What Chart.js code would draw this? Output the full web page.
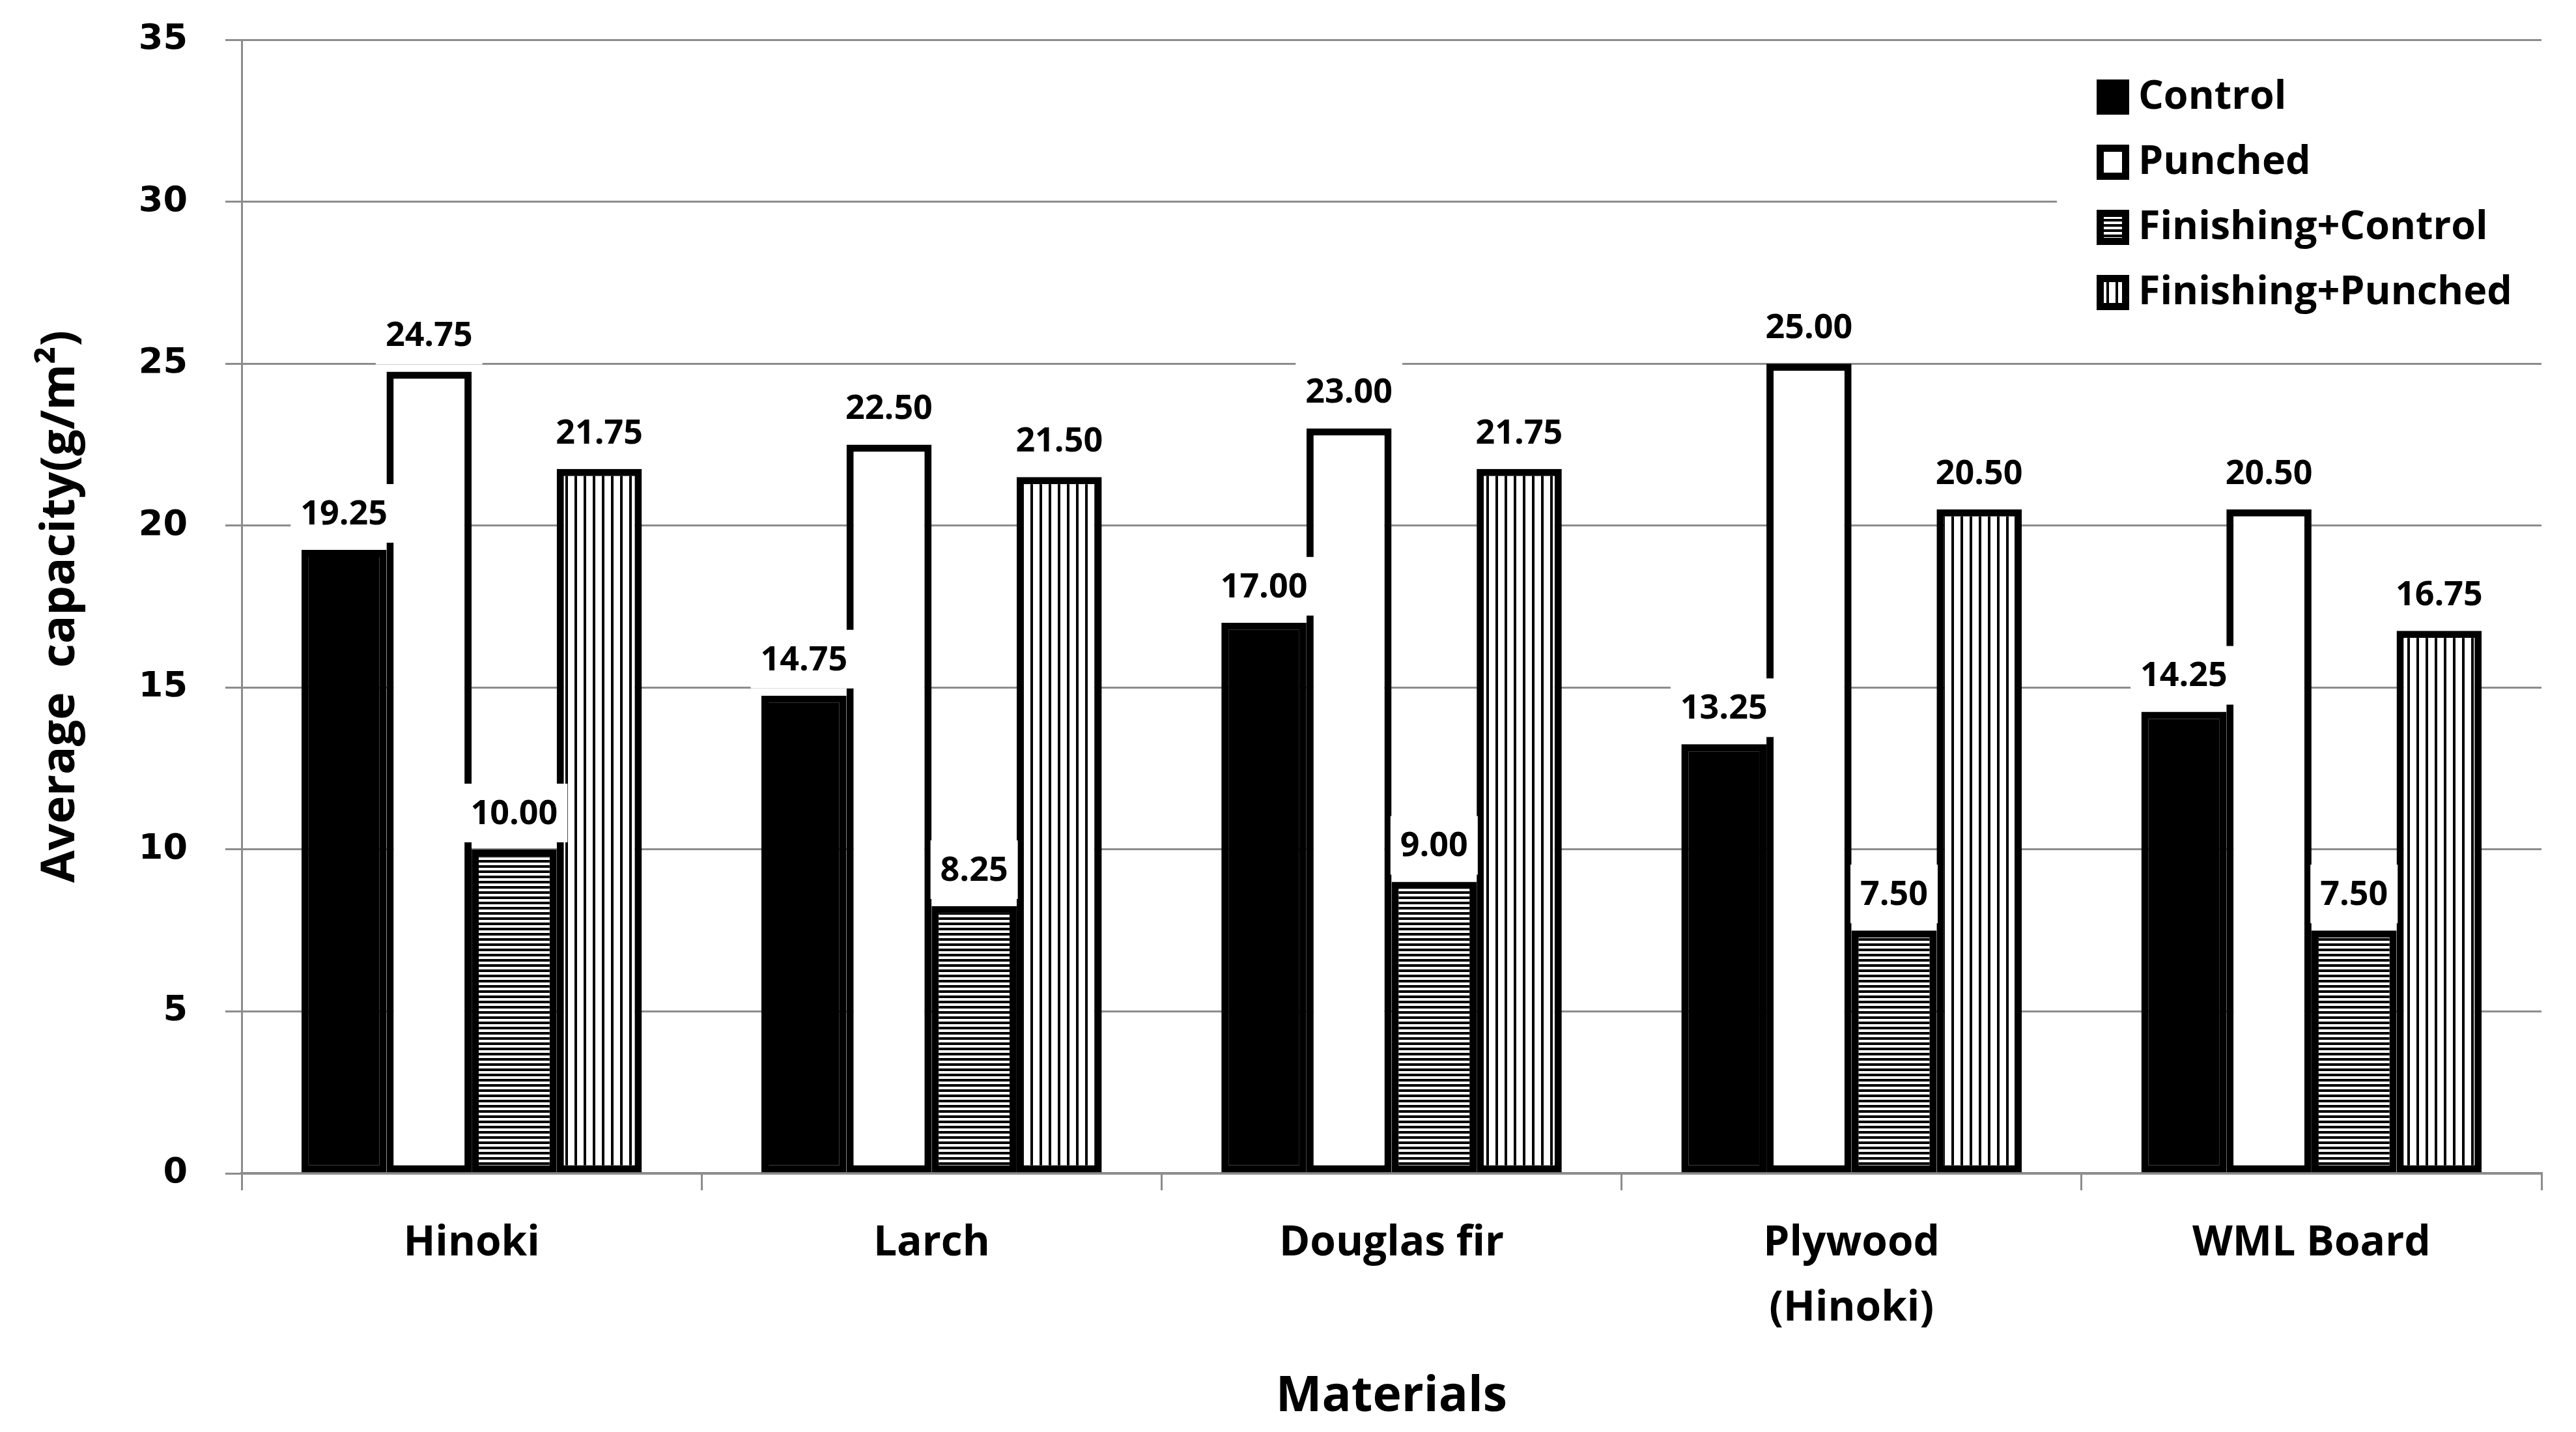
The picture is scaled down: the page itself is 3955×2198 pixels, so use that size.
<!DOCTYPE html>
<html>
<head>
<meta charset="utf-8">
<script src="https://cdn.jsdelivr.net/npm/chart.js@4.4.1/dist/chart.umd.min.js"></script>
<style>
  body { margin: 0; background: #fff; }
  #wrap { width: 3955px; height: 2198px; }
</style>
</head>
<body>
<div id="wrap"><canvas id="capacityChart" width="3955" height="2198"></canvas></div>
<script>
// chart data
const categories = ['Hinoki', 'Larch', 'Douglas fir', ['Plywood', '(Hinoki)'], 'WML Board'];
const seriesNames = ['Control', 'Punched', 'Finishing+Control', 'Finishing+Punched'];
const controlValues = [19.25, 14.75, 17.00, 13.25, 14.25];
const punchedValues = [24.75, 22.50, 23.00, 25.00, 20.50];
const finishControlValues = [10.00, 8.25, 9.00, 7.50, 7.50];
const finishPunchedValues = [21.75, 21.50, 21.75, 20.50, 16.75];
const yMin = 0, yMax = 35, yStep = 5;

const GRID = '#8c8c8c';
const LABEL_FONT = '"Open Sans", "DejaVu Sans", sans-serif';

// stripe patterns (horizontal for Finishing+Control, vertical for Finishing+Punched)
function makePattern(w, h, draw) {
  const c = document.createElement('canvas');
  c.width = w; c.height = h;
  const g = c.getContext('2d');
  g.fillStyle = '#fff';
  g.fillRect(0, 0, w, h);
  g.fillStyle = '#000';
  draw(g);
  return g.createPattern(c, 'repeat');
}
const hStripes = makePattern(8, 8, g => g.fillRect(0, 0, 8, 4));
const vStripes = makePattern(14, 14, g => g.fillRect(0, 0, 4, 14));

// value labels above bars, on a white box
const valueLabels = {
  id: 'valueLabels',
  afterDatasetsDraw(chart) {
    const ctx = chart.ctx;
    ctx.save();
    ctx.font = 'bold 52px ' + LABEL_FONT;
    ctx.textAlign = 'center';
    ctx.textBaseline = 'middle';
    chart.data.datasets.forEach((ds, di) => {
      const meta = chart.getDatasetMeta(di);
      meta.data.forEach((bar, i) => {
        const txt = ds.data[i].toFixed(2);
        const w = ctx.measureText(txt).width + 30;
        const cy = bar.y - 56;
        ctx.fillStyle = '#fff';
        ctx.fillRect(bar.x - w / 2, cy - 45, w, 90);
        ctx.fillStyle = '#000';
        ctx.fillText(txt, bar.x, cy + 2);
      });
    });
    ctx.restore();
  }
};

// legend box inside the plot area, top right
const insideLegend = {
  id: 'insideLegend',
  afterDraw(chart) {
    const ctx = chart.ctx;
    const area = chart.chartArea;
    const x0 = 3158, y0 = 80;
    ctx.save();
    ctx.fillStyle = '#fff';
    ctx.fillRect(x0, y0, area.right - x0, 420);
    ctx.font = 'bold 61px ' + LABEL_FONT;
    ctx.textBaseline = 'middle';
    chart.data.datasets.forEach((ds, i) => {
      const cy = 149 + i * 100;
      ctx.fillStyle = ds.backgroundColor;
      ctx.fillRect(3219, cy - 27, 50, 54);
      ctx.lineWidth = 11;
      ctx.strokeStyle = '#000';
      ctx.strokeRect(3224.5, cy - 21.5, 39, 43);
      ctx.fillStyle = '#000';
      ctx.fillText(ds.label, 3283, cy + 1);
    });
    ctx.restore();
  }
};

function barSet(label, data, fill) {
  return {
    label: label,
    data: data,
    backgroundColor: fill,
    borderColor: '#000',
    borderWidth: 11,
    borderSkipped: false,
    categoryPercentage: 0.74,
    barPercentage: 1.0
  };
}

new Chart(document.getElementById('capacityChart'), {
  type: 'bar',
  data: {
    labels: categories,
    datasets: [
      barSet(seriesNames[0], controlValues, '#000'),
      barSet(seriesNames[1], punchedValues, '#fff'),
      barSet(seriesNames[2], finishControlValues, hStripes),
      barSet(seriesNames[3], finishPunchedValues, vStripes)
    ]
  },
  options: {
    responsive: false,
    devicePixelRatio: 1,
    animation: false,
    layout: { padding: { top: 61, right: 53, left: 0, bottom: 0 } },
    plugins: {
      legend: { display: false },
      tooltip: { enabled: false }
    },
    scales: {
      x: {
        offset: true,
        grid: { offset: true, drawOnChartArea: false, color: GRID, lineWidth: 3, tickLength: 26 },
        border: { color: GRID, width: 4 },
        ticks: {
          color: '#000',
          padding: 32,
          maxRotation: 0,
          autoSkip: false,
          font: { family: LABEL_FONT, weight: 'bold', size: 64, lineHeight: 1.56 }
        },
        title: {
          display: true,
          text: 'Materials',
          color: '#000',
          padding: { top: 0, bottom: 8 },
          font: { family: LABEL_FONT, weight: 'bold', size: 75, lineHeight: 1.2 }
        },
        afterFit(scale) { scale.height = 397; }
      },
      y: {
        min: yMin,
        max: yMax,
        ticks: {
          stepSize: yStep,
          color: '#000',
          padding: 58,
          font: { family: '"DejaVu Sans", sans-serif', weight: 'bold', size: 54 }
        },
        grid: { color: GRID, lineWidth: 3, tickLength: 25 },
        border: { color: GRID, width: 3 },
        title: {
          display: true,
          text: 'Average  capacity(g/m²)',
          color: '#000',
          padding: { top: 50, bottom: 0 },
          font: { family: LABEL_FONT, weight: 'bold', size: 72, lineHeight: 1.2 }
        },
        afterFit(scale) {
          scale.width = 371;
          scale.paddingTop = 0;
          scale.paddingBottom = 0;
        }
      }
    }
  },
  plugins: [valueLabels, insideLegend]
});
</script>
</body>
</html>
